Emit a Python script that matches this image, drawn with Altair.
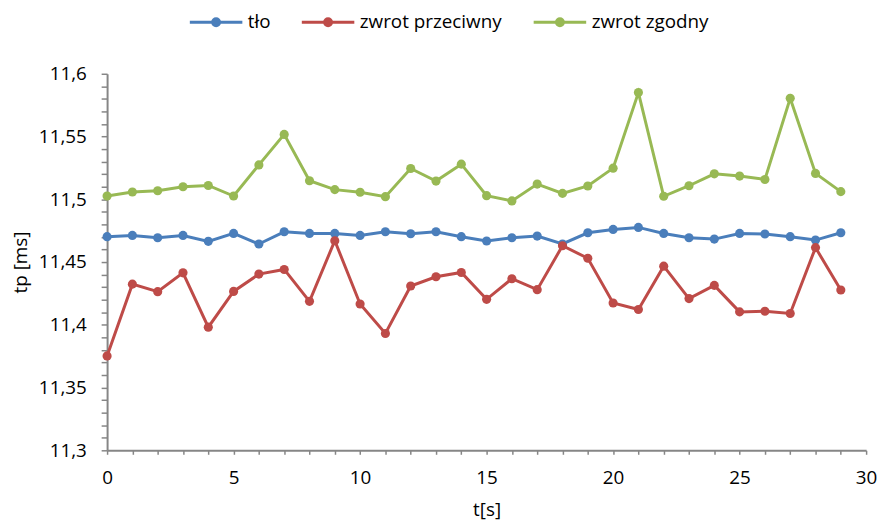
import altair as alt
import pandas as pd

# ---- data ----
t_values = list(range(30))
series_names = ["tło", "zwrot przeciwny", "zwrot zgodny"]
series_colors = ["#4A7EBB", "#BE4B48", "#98B954"]

tlo = [11.4702, 11.4712, 11.4694, 11.4712, 11.4665, 11.4728, 11.4644, 11.4741,
       11.4728, 11.4728, 11.4712, 11.4741, 11.4725, 11.4741, 11.4702, 11.4668,
       11.4694, 11.4707, 11.4644, 11.4733, 11.4760, 11.4776, 11.4728, 11.4694,
       11.4683, 11.4728, 11.4723, 11.4702, 11.4675, 11.4733]

przeciwny = [11.3752, 11.4324, 11.4264, 11.4414, 11.3981, 11.4266, 11.4404, 11.4441,
             11.4187, 11.4670, 11.4166, 11.3931, 11.4309, 11.4383, 11.4417, 11.4203,
             11.4367, 11.4280, 11.4630, 11.4530, 11.4174, 11.4122, 11.4467, 11.4209,
             11.4314, 11.4103, 11.4108, 11.4090, 11.4615, 11.4277]

zgodny = [11.5026, 11.5058, 11.5068, 11.5100, 11.5110, 11.5026, 11.5274, 11.5517,
          11.5148, 11.5077, 11.5056, 11.5021, 11.5245, 11.5145, 11.5280, 11.5029,
          11.4987, 11.5121, 11.5047, 11.5106, 11.5248, 11.5850, 11.5024, 11.5108,
          11.5203, 11.5185, 11.5158, 11.5805, 11.5206, 11.5061]

x_tick_values = list(range(0, 31))
y_tick_values = [round(11.30 + 0.01 * i, 2) for i in range(31)]

rows = []
for name, vals in zip(series_names, [tlo, przeciwny, zgodny]):
    for i, (t, v) in enumerate(zip(t_values, vals)):
        rows.append({"t": t, "tp": v, "series": name, "order": i})
df = pd.DataFrame(rows)

FONT = "Open Sans"
FS = 19
AXIS_COLOR = "#868686"

x_enc = alt.X(
    "t:Q",
    scale=alt.Scale(domain=[0, 30], nice=False),
    axis=alt.Axis(
        values=x_tick_values,
        labelExpr="datum.value % 5 == 0 ? datum.label : ''",
        labelFlush=False,
        title="t[s]",
        titleY=66,
        titleBaseline="alphabetic",
        tickSize=4,
        labelPadding=14,
        grid=False,
    ),
)
y_enc = alt.Y(
    "tp:Q",
    scale=alt.Scale(domain=[11.3, 11.6], nice=False, zero=False),
    axis=alt.Axis(
        values=y_tick_values,
        labelExpr="round(datum.value*100) % 5 == 0 ? replace(format(datum.value, '.2~f'), '.', ',') : ''",
        title="tp [ms]",
        titleX=-87,
        titleY=190,
        titleAngle=-90,
        titleAlign="center",
        titleBaseline="middle",
        tickSize=6,
        labelPadding=15,
        grid=False,
    ),
)

# legend symbol: a line with a (stroke-filled) dot in the middle
legend_symbol = (
    "M-1,0L1,0"
    "M-0.132,0A0.132,0.132,0,1,0,0.132,0A0.132,0.132,0,1,0,-0.132,0"
    "M-0.057,0A0.057,0.057,0,1,0,0.057,0A0.057,0.057,0,1,0,-0.057,0"
)
legend_def = alt.Legend(
    title=None,
    orient="none",
    legendX=82,
    legendY=-80,
    direction="horizontal",
    symbolType=legend_symbol,
    symbolSize=2809,
    symbolStrokeWidth=3,
    labelFont=FONT,
    labelFontSize=FS,
    labelColor="black",
    labelOffset=4,
    columnPadding=25,
    padding=0,
)

scale_def = alt.Scale(domain=series_names, range=series_colors)

lines = alt.Chart(df).mark_line(strokeWidth=3).encode(
    x=x_enc,
    y=y_enc,
    color=alt.Color("series:N", scale=scale_def, legend=legend_def),
    order="order:Q",
)

points = alt.Chart(df).mark_circle(size=85, opacity=1).encode(
    x=x_enc,
    y=y_enc,
    color=alt.Color("series:N", scale=scale_def, legend=legend_def),
)

chart = (
    alt.layer(lines, points)
    .properties(
        width=766,
        height=380,
        autosize=alt.AutoSizeParams(type="none"),
        padding={"left": 100, "top": 64, "right": 13, "bottom": 74},
        background="white",
    )
    .configure_view(stroke=None)
    .configure_axis(
        domainColor=AXIS_COLOR,
        domainWidth=2,
        tickColor=AXIS_COLOR,
        tickWidth=1.5,
        labelFont=FONT,
        labelFontSize=FS,
        labelColor="black",
        titleFont=FONT,
        titleFontSize=FS,
        titleFontWeight="normal",
        titleColor="black",
    )
)

chart.save("out.html", embed_options={"renderer": "svg", "actions": False})
